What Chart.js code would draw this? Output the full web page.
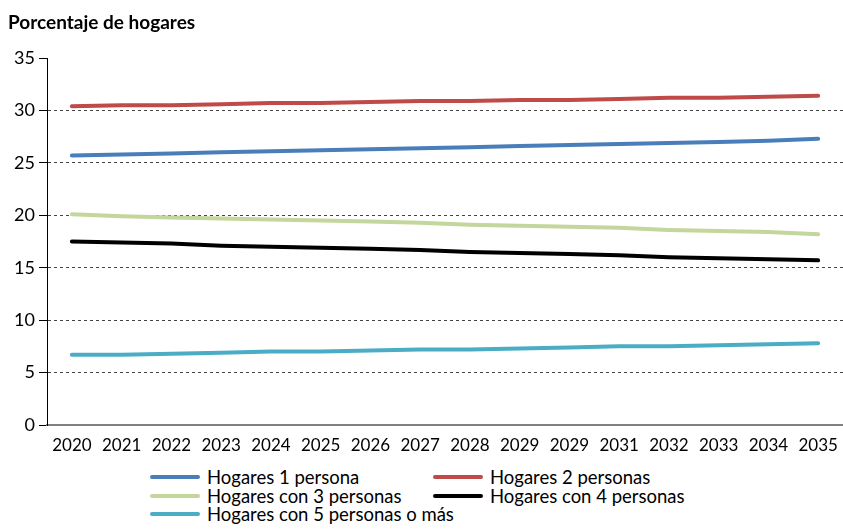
<!DOCTYPE html>
<html>
<head>
<meta charset="utf-8">
<script src="https://cdn.jsdelivr.net/npm/chart.js@4"></script>
<style>
  body { margin: 0; background: #fff; font-family: Lato, sans-serif; }
  #wrap { position: relative; width: 843px; height: 529px; }
  #title { position: absolute; left: 8px; top: 10px; font-weight: bold; font-size: 19px; color: #000; }
  #chartBox { position: absolute; left: 0; top: 0; width: 843px; height: 460px; }
  #legend { position: absolute; left: 150px; top: 468px; width: 640px; display: grid;
            grid-template-columns: 283px 330px; row-gap: 0; font-size: 18.5px; color: #000; }
  .item { display: flex; align-items: center; height: 18.5px; white-space: nowrap; }
  .swatch { width: 50px; height: 4px; border-radius: 2px; margin-right: 7px; flex: none; }
</style>
</head>
<body>
<div id="wrap">
  <div id="chartBox"><canvas id="chart"></canvas></div>
  <div id="title">Porcentaje de hogares</div>
  <div id="legend"></div>
</div>
<script>
// categorias (el original repite 2029)
const years = ['2020','2021','2022','2023','2024','2025','2026','2027','2028','2029','2029','2031','2032','2033','2034','2035'];

const hogares1 = [25.7, 25.8, 25.9, 26.0, 26.1, 26.2, 26.3, 26.4, 26.5, 26.6, 26.7, 26.8, 26.9, 27.0, 27.1, 27.3];
const hogares2 = [30.4, 30.5, 30.5, 30.6, 30.7, 30.7, 30.8, 30.9, 30.9, 31.0, 31.0, 31.1, 31.2, 31.2, 31.3, 31.4];
const hogares3 = [20.1, 19.9, 19.8, 19.7, 19.6, 19.5, 19.4, 19.3, 19.1, 19.0, 18.9, 18.8, 18.6, 18.5, 18.4, 18.2];
const hogares4 = [17.5, 17.4, 17.3, 17.1, 17.0, 16.9, 16.8, 16.7, 16.5, 16.4, 16.3, 16.2, 16.0, 15.9, 15.8, 15.7];
const hogares5 = [6.7, 6.7, 6.8, 6.9, 7.0, 7.0, 7.1, 7.2, 7.2, 7.3, 7.4, 7.5, 7.5, 7.6, 7.7, 7.8];

const yTicks = [0, 5, 10, 15, 20, 25, 30, 35];

const series = [
  { label: 'Hogares 1 persona', data: hogares1, color: '#4a7ebb' },
  { label: 'Hogares 2 personas', data: hogares2, color: '#be4b48' },
  { label: 'Hogares con 3 personas', data: hogares3, color: '#c3d69b' },
  { label: 'Hogares con 4 personas', data: hogares4, color: '#000000' },
  { label: 'Hogares con 5 personas o más', data: hogares5, color: '#4bacc6' }
];

const chart = new Chart(document.getElementById('chart'), {
  type: 'line',
  data: {
    labels: years,
    datasets: series.map(s => ({
      label: s.label,
      data: s.data,
      borderColor: s.color,
      backgroundColor: s.color,
      borderWidth: 4,
      pointRadius: 0,
      tension: 0,
      borderCapStyle: 'round'
    }))
  },
  options: {
    responsive: true,
    maintainAspectRatio: false,
    animation: false,
    layout: { padding: { top: 58, right: 0, left: 0, bottom: 0 } },
    plugins: { legend: { display: false }, tooltip: { enabled: false } },
    scales: {
      x: {
        offset: true,
        grid: { display: false, offset: true },
        border: { color: '#808080', width: 2 },
        ticks: { color: '#000', font: { family: 'Lato', size: 17 }, maxRotation: 0, autoSkip: false, padding: 2 },
        afterFit: s => { s.height = 35; }
      },
      y: {
        min: 0, max: 35,
        afterBuildTicks: s => { s.ticks = yTicks.map(v => ({ value: v })); },
        grid: {
          color: c => (c.tick.value === 0 || c.tick.value === 35) ? 'rgba(0,0,0,0)' : '#444',
          lineWidth: 1,
          tickColor: '#000',
          tickLength: 8,
          tickBorderDash: []
        },
        border: { color: '#000', width: 1, dash: [3, 3] },
        ticks: { color: '#000', font: { family: 'Lato', size: 18 }, padding: 4 },
        afterFit: s => { s.width = 47; }
      }
    }
  }
});

// leyenda en dos columnas
const legendEl = document.getElementById('legend');
series.forEach(s => {
  const item = document.createElement('div');
  item.className = 'item';
  item.innerHTML = '<span class="swatch" style="background:' + s.color + '"></span>' + s.label;
  legendEl.appendChild(item);
});
</script>
</body>
</html>
